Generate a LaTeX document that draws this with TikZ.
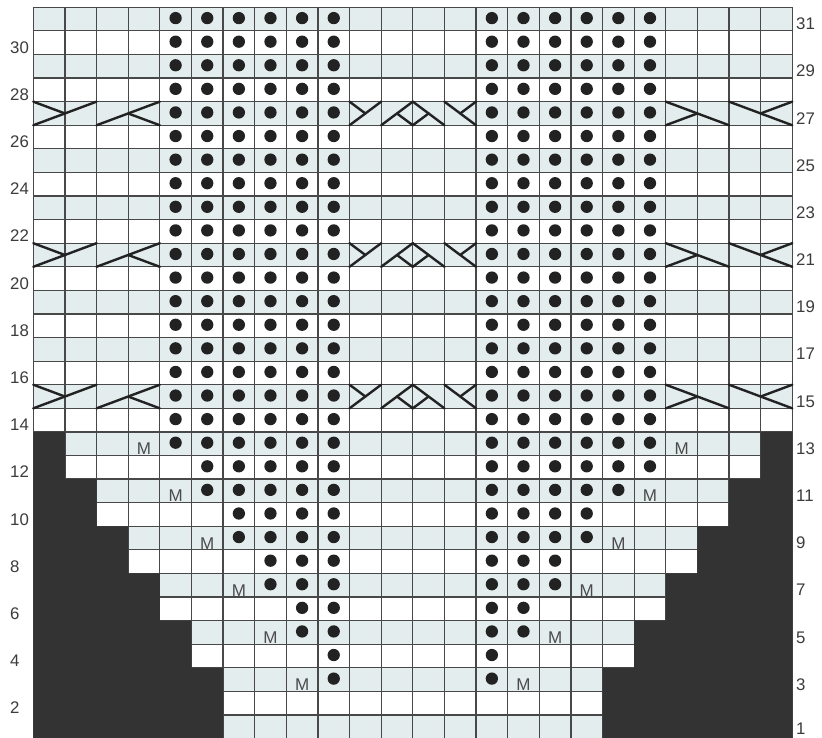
\documentclass[tikz,border=0pt]{standalone}
\usepackage{fontspec}
\setmainfont{Liberation Sans}
\definecolor{shadec}{RGB}{228,237,237}
\definecolor{darkfill}{RGB}{51,51,51}
\definecolor{gridc}{RGB}{72,72,72}
\definecolor{dotc}{RGB}{34,34,34}
\definecolor{labc}{RGB}{60,60,60}
\definecolor{mc}{RGB}{75,75,75}
\newcommand{\cabA}[3]{%
  \draw[cable] (#1,#3-1) -- (#2,#3);
  \draw[cable] (#1,#3) -- ({(#1+#2)/2},#3-0.5);}
\newcommand{\cabB}[3]{%
  \draw[cable] (#1,#3-1) -- (#2,#3);
  \draw[cable] ({(#1+#2)/2},#3-0.5) -- (#2,#3-1);}
\newcommand{\cabC}[3]{%
  \draw[cable] (#1,#3) -- (#2,#3-1);
  \draw[cable] (#1,#3-1) -- ({(#1+#2)/2},#3-0.5);}
\newcommand{\cabD}[3]{%
  \draw[cable] (#1,#3) -- (#2,#3-1);
  \draw[cable] ({(#1+#2)/2},#3-0.5) -- (#2,#3);}
\begin{document}
\begin{tikzpicture}[x=31.625pt,y=23.59pt,
  gridline/.style={draw=gridc,line width=1.2pt,line cap=rect},
  purl/.style={circle,fill=dotc,inner sep=0pt,minimum size=12.3pt},
  mlabel/.style={anchor=base,inner sep=0pt,text=mc,font=\fontsize{17}{17}\selectfont},
  rowlabel/.style={anchor=base west,inner sep=0pt,text=labc,font=\fontsize{16.8}{16.8}\selectfont},
  cable/.style={draw=dotc,line width=2.4pt,line cap=round}]
\useasboundingbox (-1.0530,0.0254) rectangle (24.9395,31.3098);
\fill[white] (-1.0530,0.0254) rectangle (24.9395,31.3098);
% shaded odd rows
\foreach \r in {1,3,...,31} \fill[shadec] (0,\r-1) rectangle (24,\r);
% grid
\foreach \i in {0,...,24} \draw[gridline] (\i,0) -- (\i,31);
\foreach \j in {0,...,31} \draw[gridline] (0,\j) -- (24,\j);
% dark regions
\fill[darkfill] (0,-1) -- (6,-1) -- (6,3) -- (5,3) -- (5,5) -- (4,5) -- (4,7) -- (3,7) -- (3,9) -- (2,9) -- (2,11) -- (1,11) -- (1,13) -- (0,13) -- cycle;
\fill[darkfill] (24,-1) -- (18,-1) -- (18,3) -- (19,3) -- (19,5) -- (20,5) -- (20,7) -- (21,7) -- (21,9) -- (22,9) -- (22,11) -- (23,11) -- (23,13) -- (24,13) -- cycle;
% purl dots
\foreach \r/\a/\b/\c/\d in {3/10/10/15/15,4/10/10/15/15,5/9/10/15/16,6/9/10/15/16,7/8/10/15/17,8/8/10/15/17,9/7/10/15/18,10/7/10/15/18,11/6/10/15/19,12/6/10/15/20}{
  \foreach \k in {\a,...,\b} \node[purl] (d\r-\k) at ([yshift=1pt]\k-0.5,\r-0.5) {};
  \foreach \k in {\c,...,\d} \node[purl] (d\r-\k) at ([yshift=1pt]\k-0.5,\r-0.5) {};
}
\foreach \r in {13,...,31}{
  \foreach \k in {5,...,10} \node[purl] (d\r-\k) at ([yshift=1pt]\k-0.5,\r-0.5) {};
  \foreach \k in {15,...,20} \node[purl] (d\r-\k) at ([yshift=1pt]\k-0.5,\r-0.5) {};
}
% make-one marks
\foreach \r/\a/\b in {3/9/16,5/8/17,7/7/18,9/6/19,11/5/20,13/4/21}{
  \node[mlabel] (mL\r) at ([yshift=0.8pt]\a-0.5,\r-1) {M};
  \node[mlabel] (mR\r) at ([yshift=0.8pt]\b-0.5,\r-1) {M};
}
% cables
\foreach \r in {15,21,27}{
  \cabA{0}{2}{\r}
  \cabB{2}{4}{\r}
  \cabA{10}{11}{\r}
  \cabB{11}{12}{\r}
  \cabC{12}{13}{\r}
  \cabD{13}{14}{\r}
  \cabC{20}{22}{\r}
  \cabD{22}{24}{\r}
}
% row numbers
\foreach \r in {2,4,...,30} \node[rowlabel] (L\r) at ([xshift=-23.3pt,yshift=1.2pt]0,\r-1) {\r};
\foreach \r in {3,5,...,31} \node[rowlabel] (R\r) at ([xshift=3.7pt,yshift=1.2pt]24,\r-1) {\r};
\node[rowlabel] (R1) at ([xshift=3.7pt,yshift=4pt]24,0) {1};
\end{tikzpicture}
\end{document}
